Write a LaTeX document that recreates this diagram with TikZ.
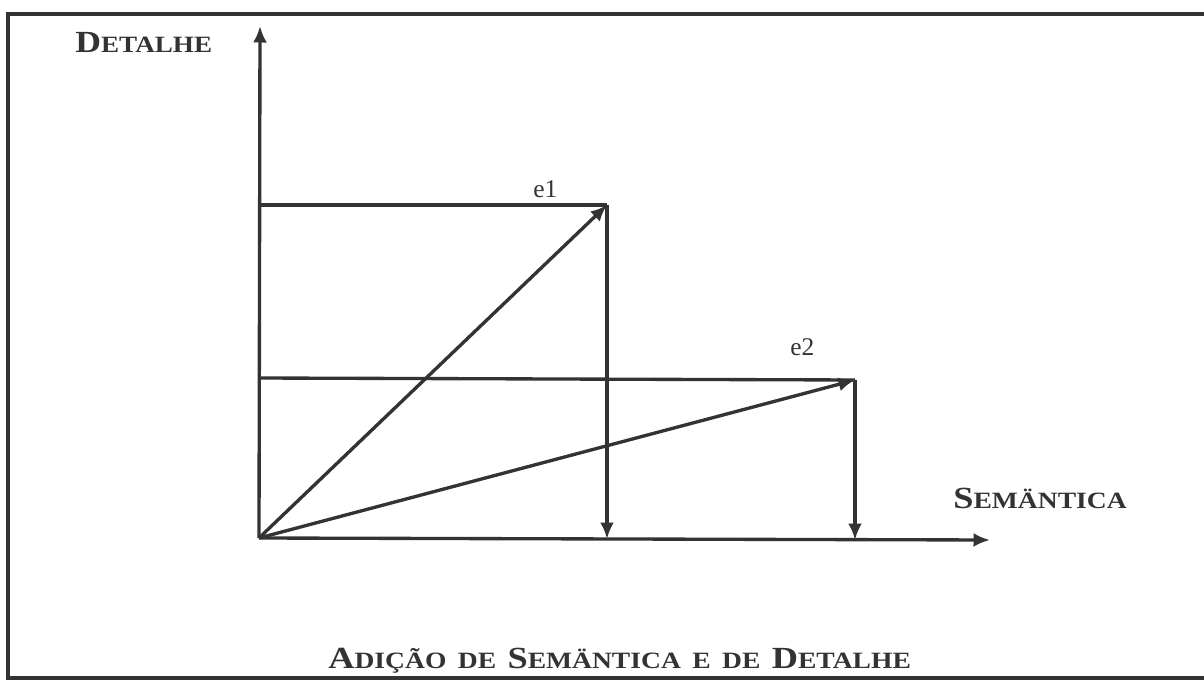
\documentclass[tikz,border=0pt]{standalone}
\usepackage{fontspec}
\usepackage{graphicx}
\setmainfont{Liberation Serif}
\usetikzlibrary{arrows.meta}
\definecolor{ink}{gray}{0.2}
\newcommand\fakesc[2]{{\fontsize{17.5}{17.5}\selectfont #1}{\fontsize{13.3}{13.3}\selectfont #2}}
\newcommand\wsp{\hspace{0.55em}}
\tikzset{
  ln/.style={draw=ink, line width=1.9pt},
  arr/.style={ln, -{Latex[length=0.33cm,width=0.28cm]}},
  lbl/.style={text=ink, inner sep=0pt, anchor=base west, font=\bfseries},
  elbl/.style={text=ink, inner sep=0pt, anchor=base west, font=\fontsize{14.5}{14.5}\selectfont},
}
\begin{document}
\begin{tikzpicture}[x=0.02cm, y=-0.02cm]
\useasboundingbox (0,0) rectangle (1204,686);
% frame
\coordinate (ftr) at (1215,14);
\coordinate (ftl) at (8,14);
\coordinate (fbl) at (8,678);
\coordinate (fbr) at (1215,678);
\draw[ln] (ftr) -- (ftl) -- (fbl) -- (fbr);
% axes
\coordinate (O) at (259,538);
\coordinate (ytop) at (260,26);
\coordinate (xend) at (990,540);
\draw[arr] (O) -- (ytop);
\draw[arr] (O) -- (xend);
% vector e1
\coordinate (p1) at (607,205);
\coordinate (h1) at (259,205);
\coordinate (b1) at (607,539);
\draw[ln] (h1) -- (p1);
\draw[arr] (p1) -- (b1);
\draw[arr] (O) -- (p1);
% vector e2
\coordinate (p2) at (855,380);
\coordinate (h2) at (259,378);
\coordinate (b2) at (855,540);
\draw[ln] (h2) -- (p2);
\draw[arr] (p2) -- (b2);
\draw[arr] (O) -- (p2);
% labels
\node[elbl] (e1) at (533,197) {e1};
\node[elbl] (e2) at (790,355) {e2};
\node[lbl] (detalhe) at (75,53) {\scalebox{1.16}[1]{\fakesc{D}{ETALHE}}};
\node[lbl] (semantica) at (953,508) {\scalebox{1.18}[1]{\fakesc{S}{EMÄNTICA}}};
\node[lbl] (title) at (328,668) {\scalebox{1.18}[1]{\fakesc{A}{DIÇÃO}\wsp\fakesc{}{DE}\wsp\fakesc{S}{EMÄNTICA}\wsp\fakesc{}{E}\wsp\fakesc{}{DE}\wsp\fakesc{D}{ETALHE}}};
\end{tikzpicture}
\end{document}
